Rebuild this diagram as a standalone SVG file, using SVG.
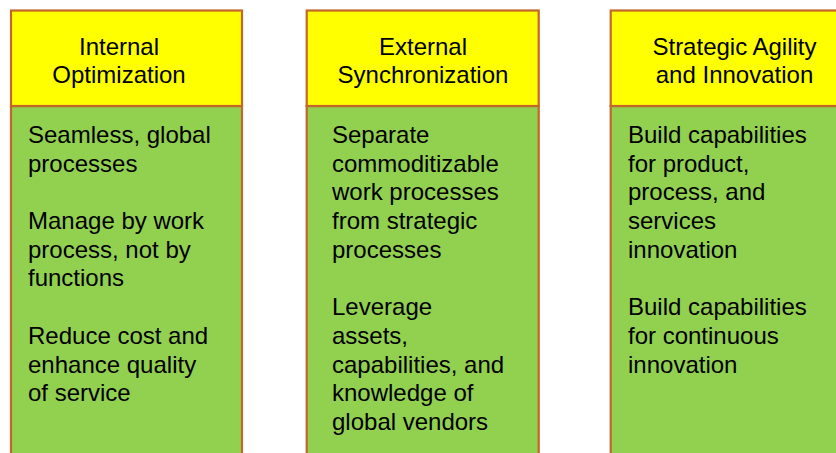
<svg xmlns="http://www.w3.org/2000/svg" width="836" height="453" viewBox="0 0 836 453">
<style>
.hd{fill:#FFFF00;stroke:#C4652A;stroke-width:2.2}
.bd{fill:#92D050;stroke:#C4652A;stroke-width:2.2}
text{font-family:"Liberation Sans",Arial,sans-serif;font-size:24px;fill:#000}
.c{text-anchor:middle}
</style>
<rect width="836" height="453" fill="#FFFFFF"/>
<g id="col1">
<rect class="bd" x="11" y="106" width="231" height="360"/>
<rect class="hd" x="11" y="10.5" width="231" height="95.5"/>
<text class="c" x="119" y="55">Internal</text>
<text class="c" x="119" y="83">Optimization</text>
<text x="28">
<tspan x="28" y="143">Seamless, global</tspan>
<tspan x="28" y="171.7">processes</tspan>
<tspan x="28" y="229">Manage by work</tspan>
<tspan x="28" y="257.7">process, not by</tspan>
<tspan x="28" y="286.4">functions</tspan>
<tspan x="28" y="343.8">Reduce cost and</tspan>
<tspan x="28" y="372.5">enhance quality</tspan>
<tspan x="28" y="401.2">of service</tspan>
</text>
</g>
<g id="col2">
<rect class="bd" x="306.7" y="106" width="232" height="360"/>
<rect class="hd" x="306.7" y="10.5" width="232" height="95.5"/>
<text class="c" x="423" y="55">External</text>
<text class="c" x="423" y="83">Synchronization</text>
<text x="332">
<tspan x="332" y="143">Separate</tspan>
<tspan x="332" y="171.7">commoditizable</tspan>
<tspan x="332" y="200.4">work processes</tspan>
<tspan x="332" y="229">from strategic</tspan>
<tspan x="332" y="257.7">processes</tspan>
<tspan x="332" y="315.1">Leverage</tspan>
<tspan x="332" y="343.8">assets,</tspan>
<tspan x="332" y="372.5">capabilities, and</tspan>
<tspan x="332" y="401.2">knowledge of</tspan>
<tspan x="332" y="429.9">global vendors</tspan>
</text>
</g>
<g id="col3">
<rect class="bd" x="610.7" y="106" width="232" height="360"/>
<rect class="hd" x="610.7" y="10.5" width="232" height="95.5"/>
<text class="c" x="734.5" y="55">Strategic Agility</text>
<text class="c" x="734.5" y="83">and Innovation</text>
<text x="628">
<tspan x="628" y="143">Build capabilities</tspan>
<tspan x="628" y="171.7">for product,</tspan>
<tspan x="628" y="200.4">process, and</tspan>
<tspan x="628" y="229">services</tspan>
<tspan x="628" y="257.7">innovation</tspan>
<tspan x="628" y="315.1">Build capabilities</tspan>
<tspan x="628" y="343.8">for continuous</tspan>
<tspan x="628" y="372.5">innovation</tspan>
</text>
</g>
<g id="connectors"></g>
</svg>
